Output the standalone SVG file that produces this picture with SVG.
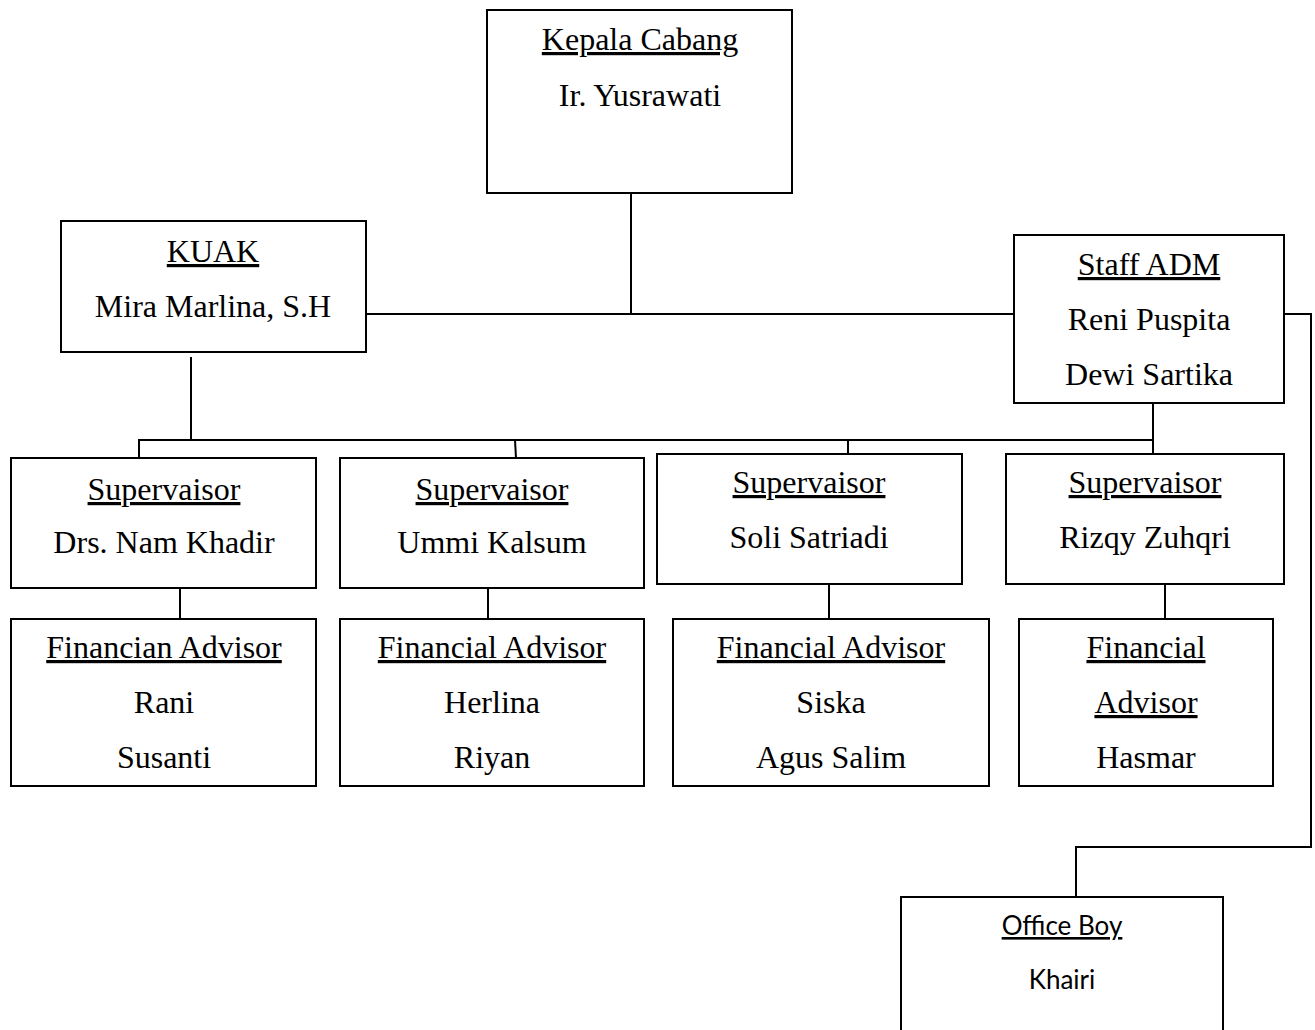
<svg xmlns="http://www.w3.org/2000/svg" width="1315" height="1030" viewBox="0 0 1315 1030">
<style>
rect{fill:#fff;stroke:#000;stroke-width:2}
text{font-family:"Liberation Serif","Times New Roman",serif;font-size:32px;fill:#000;text-anchor:middle}
.u{text-decoration:underline}
.sans{font-family:Lato,"Liberation Sans",sans-serif;font-size:26px}
#connectors line,#connectors polyline{stroke:#000;stroke-width:2;fill:none}
</style>
<rect x="0" y="0" width="1315" height="1030" style="fill:#fff;stroke:none"/>
<g id="connectors">
<line x1="631" y1="193" x2="631" y2="314"/>
<line x1="366" y1="314" x2="1020" y2="314"/>
<line x1="191" y1="357" x2="191" y2="440"/>
<line x1="138" y1="440" x2="1153" y2="440"/>
<line x1="1153" y1="403" x2="1153" y2="458"/>
<line x1="139" y1="440" x2="139" y2="458"/>
<line x1="515" y1="440" x2="516" y2="458"/>
<line x1="848" y1="440" x2="848" y2="458"/>
<line x1="180" y1="588" x2="180" y2="623"/>
<line x1="488" y1="588" x2="488" y2="619"/>
<line x1="829" y1="584" x2="829" y2="619"/>
<line x1="1165" y1="580" x2="1165" y2="619"/>
<polyline points="1284,314 1311,314 1311,847 1076,847 1076,897"/>
</g>
<g id="kepala"><rect x="487" y="10" width="305" height="183"/><text class="u" x="640" y="50">Kepala Cabang</text><text x="640" y="106">Ir. Yusrawati</text></g>
<g id="kuak"><rect x="61" y="221" width="305" height="131"/><text class="u" x="213" y="262">KUAK</text><text x="213" y="317">Mira Marlina, S.H</text></g>
<g id="staffadm"><rect x="1014" y="235" width="270" height="168"/><text class="u" x="1149" y="275">Staff ADM</text><text x="1149" y="330">Reni Puspita</text><text x="1149" y="385">Dewi Sartika</text></g>
<g id="sup1"><rect x="11" y="458" width="305" height="130"/><text class="u" x="164" y="500">Supervaisor</text><text x="164" y="553">Drs. Nam Khadir</text></g>
<g id="sup2"><rect x="340" y="458" width="304" height="130"/><text class="u" x="492" y="500">Supervaisor</text><text x="492" y="553">Ummi Kalsum</text></g>
<g id="sup3"><rect x="657" y="454" width="305" height="130"/><text class="u" x="809" y="493">Supervaisor</text><text x="809" y="548">Soli Satriadi</text></g>
<g id="sup4"><rect x="1006" y="454" width="278" height="130"/><text class="u" x="1145" y="493">Supervaisor</text><text x="1145" y="548">Rizqy Zuhqri</text></g>
<g id="fa1"><rect x="11" y="619" width="305" height="167"/><text class="u" x="164" y="658">Financian Advisor</text><text x="164" y="713">Rani</text><text x="164" y="768">Susanti</text></g>
<g id="fa2"><rect x="340" y="619" width="304" height="167"/><text class="u" x="492" y="658">Financial Advisor</text><text x="492" y="713">Herlina</text><text x="492" y="768">Riyan</text></g>
<g id="fa3"><rect x="673" y="619" width="316" height="167"/><text class="u" x="831" y="658">Financial Advisor</text><text x="831" y="713">Siska</text><text x="831" y="768">Agus Salim</text></g>
<g id="fa4"><rect x="1019" y="619" width="254" height="167"/><text class="u" x="1146" y="658">Financial</text><text class="u" x="1146" y="713">Advisor</text><text x="1146" y="768">Hasmar</text></g>
<g id="officeboy"><rect x="901" y="897" width="322" height="140"/><text class="u sans" x="1062" y="935">Office Boy</text><text class="sans" x="1062" y="989">Khairi</text></g>
</svg>
